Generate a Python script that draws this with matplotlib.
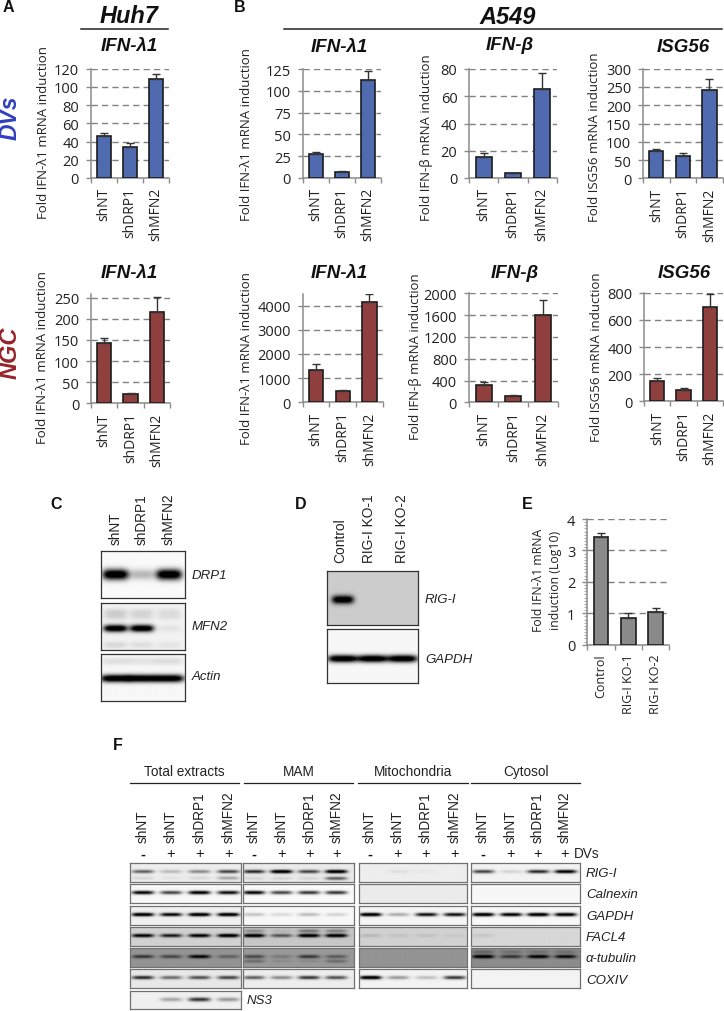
import numpy as np
import matplotlib
matplotlib.use("Agg")
import matplotlib.pyplot as plt
from matplotlib.ticker import MultipleLocator

W, H = 724, 1012
SANS = "Open Sans"
ARIAL = "Liberation Sans"
BLUE, RED, GREY = "#4f6aae", "#8e3f3e", "#8a8a8a"
SPINE = "#8c8c8c"
DARK = "#1d1d1d"

labels_sh = ["shNT", "shDRP1", "shMFN2"]
labels_ko = ["Control", "RIG-I KO-1", "RIG-I KO-2"]

dv_huh_ifnl = [46, 33.5, 108.5];   dv_huh_ifnl_err = [3, 4.5, 5]
dv_a549_ifnl = [27, 6.5, 113];     dv_a549_ifnl_err = [3, 1, 10]
dv_a549_ifnb = [15.5, 3.5, 65];    dv_a549_ifnb_err = [2.5, 0.5, 12]
dv_a549_isg = [74, 62, 243];       dv_a549_isg_err = [7, 7, 28]
ngc_huh_ifnl = [143, 21, 216];     ngc_huh_ifnl_err = [12, 3, 37]
ngc_a549_ifnl = [1330, 470, 4150]; ngc_a549_ifnl_err = [250, 30, 330]
ngc_a549_ifnb = [320, 115, 1610];  ngc_a549_ifnb_err = [60, 15, 260]
ngc_a549_isg = [150, 85, 695];     ngc_a549_isg_err = [25, 10, 95]
ko_vals = [3.42, 0.85, 1.03];      ko_err = [0.15, 0.17, 0.13]

fig = plt.figure(figsize=(W / 100, H / 100), dpi=100)
fig.patch.set_facecolor("white")


def pax(x0, y0, x1, y1, **kw):
    return fig.add_axes([x0 / W, 1 - y1 / H, (x1 - x0) / W, (y1 - y0) / H], **kw)


def txt(x, y, s, **kw):
    kw.setdefault("ha", "center")
    kw.setdefault("va", "center")
    kw.setdefault("family", ARIAL)
    return fig.text(x / W, 1 - y / H, s, **kw)


def hline(x0, x1, y, lw=1.1, color="#222222"):
    fig.add_artist(plt.Line2D([x0 / W, x1 / W], [1 - y / H, 1 - y / H], color=color, lw=lw))


def bars(box, vals, errs, color, ticks, ymax, cats=labels_sh, minor=None, lab_pad=6.5, catsize=10):
    ax = pax(*box)
    ax.set_xlim(0, 3)
    ax.set_ylim(0, ymax)
    x = np.arange(3) + 0.5
    ax.bar(x, vals, width=0.54, color=color, edgecolor=DARK, linewidth=1.2, zorder=3,
           yerr=[np.zeros(3), errs], error_kw=dict(ecolor="#333333", elinewidth=1.0, capsize=2.6,
                                                   capthick=1.0, zorder=4))
    for s in ("top", "right"):
        ax.spines[s].set_visible(False)
    for s in ("left", "bottom"):
        ax.spines[s].set_color(SPINE)
        ax.spines[s].set_linewidth(1.1)
    ax.set_yticks(ticks)
    ax.set_xticks([0, 1, 2, 3])
    ax.set_xticklabels([])
    ax.set_xticks(x, minor=True)
    ax.set_xticklabels(cats, minor=True, rotation=90, family=SANS, fontsize=catsize, color="#222222")
    ax.tick_params(axis="x", which="minor", length=0, pad=lab_pad)
    ax.tick_params(axis="x", which="major", length=3.5, color=SPINE, width=1.0)
    ax.tick_params(axis="y", length=3.5, color=SPINE, width=1.0, pad=5, labelsize=10.5, labelcolor="#222222")
    for t in ax.get_yticklabels():
        t.set_family(SANS)
    ax.yaxis.grid(True, color="#808080", lw=1.0, ls=(0, (4.5, 3)), zorder=0)
    ax.set_axisbelow(True)
    if minor:
        ax.yaxis.set_minor_locator(MultipleLocator(minor))
        ax.tick_params(axis="y", which="minor", length=2.5, color="#aaaaaa", width=0.8)
    return ax


# Row 1, DVs
bars((90.7, 69.5, 169, 179), dv_huh_ifnl, dv_huh_ifnl_err, BLUE, range(0, 121, 20), 120)
bars((302.7, 70.3, 381, 178.7), dv_a549_ifnl, dv_a549_ifnl_err, BLUE, range(0, 126, 25), 125)
bars((469.3, 70, 556.7, 179), dv_a549_ifnb, dv_a549_ifnb_err, BLUE, range(0, 81, 20), 80)
bars((643, 69.7, 722.7, 179.3), dv_a549_isg, dv_a549_isg_err, BLUE, range(0, 301, 50), 300)
# Row 2, NGC
bars((91, 295, 170, 404.3), ngc_huh_ifnl, ngc_huh_ifnl_err, RED, range(0, 251, 50), 259)
bars((302.7, 295, 382.7, 403.3), ngc_a549_ifnl, ngc_a549_ifnl_err, RED, range(0, 4001, 1000), 4480)
bars((468.7, 294.3, 558, 403.3), ngc_a549_ifnb, ngc_a549_ifnb_err, RED, range(0, 2001, 400), 2000)
bars((644.3, 293.7, 722.7, 402.3), ngc_a549_isg, ngc_a549_isg_err, RED, range(0, 801, 200), 800)
# Panel E
bars((587.3, 520, 669.3, 645.7), ko_vals, ko_err, GREY, range(0, 5), 4, cats=labels_ko, minor=0.1, catsize=9)

# Headers
TITLE = dict(family=ARIAL, weight="bold", style="italic", color="#111111")
txt(129.3, 16.5, "Huh7", fontsize=17, **TITLE)
txt(508, 17, "A549", fontsize=17, **TITLE)
hline(81, 168, 29.7)
hline(284, 722, 29.7)
for x, y, s in [(129, 46.7, "IFN-λ1"), (339.5, 47, "IFN-λ1"), (510, 46, "IFN-β"), (683, 47.5, "ISG56"),
                (129, 274, "IFN-λ1"), (339.5, 274, "IFN-λ1"), (515, 273, "IFN-β"), (684, 273, "ISG56")]:
    txt(x, y, s, fontsize=13.5, **TITLE)
txt(10.5, 118, "DVs", fontsize=16.5, rotation=90, family=ARIAL, weight="bold", style="italic", color="#2f3fc0")
txt(10.5, 353, "NGC", fontsize=17, rotation=90, family=ARIAL, weight="bold", style="italic", color="#97232a")

YL = dict(rotation=90, family=SANS, fontsize=9.5, color="#222222")
for x, y, s in [(43.3, 132.5, "Fold IFN-λ1 mRNA induction"), (247, 134.7, "Fold IFN-λ1 mRNA induction"),
                (426.7, 137.5, "Fold IFN-β mRNA induction"), (594, 136.7, "Fold ISG56 mRNA induction"),
                (43, 357.8, "Fold IFN-λ1 mRNA induction"), (246.7, 358.8, "Fold IFN-λ1 mRNA induction"),
                (415, 357, "Fold IFN-β mRNA induction"), (596, 357, "Fold ISG56 mRNA induction")]:
    txt(x, y, s, **YL)
txt(547, 580, "Fold IFN-λ1 mRNA\ninduction (Log10)", rotation=90, family=SANS, fontsize=8.8,
    color="#222222", linespacing=1.45)

for x, y, s in [(8, 7, "A"), (240, 7, "B"), (56, 505, "C"), (300.7, 505, "D"), (527.7, 505, "E"), (117.7, 746, "F")]:
    txt(x, y, s, fontsize=11.5, weight="bold", color="#111111")


# Blots: each band is a lane-wise darkness profile
def blot(box, lanes, bands, bg, half=11, sy=2.0, edge="#707070"):
    x0, y0, x1, y1 = box
    ax = pax(x0, y0, x1, y1)
    nx, ny = int(x1 - x0) * 2, int(y1 - y0) * 2
    xs = np.linspace(x0, x1, nx)
    ys = np.linspace(0, 1, ny)
    dark = np.zeros((ny, nx))
    for yf, vals in bands:
        prof_y = np.exp(-0.5 * ((ys - yf) * (y1 - y0) / sy) ** 2)
        for lx, v in zip(lanes, vals):
            prof_x = np.exp(-np.abs((xs - lx) / half) ** 4)
            dark += v * 1.25 * np.outer(prof_y, prof_x)
    img = bg * (1 - np.clip(dark, 0, 1))
    ax.imshow(img, cmap="gray", vmin=0, vmax=1, aspect="auto", interpolation="bilinear",
              extent=(x0, x1, y1, y0))
    ax.set_xticks([])
    ax.set_yticks([])
    for s in ax.spines.values():
        s.set_color(edge)
        s.set_linewidth(0.9)
    return ax


# Panel C
c_lanes = [115.3, 141.7, 169]
c_drp1 = [1.0, 0.22, 1.0]
c_mfn2 = [1.0, 1.0, 0.05]
c_mfn2_upper = [0.1, 0.08, 0.06]
c_mfn2_lower = [0.09, 0.07, 0.05]
c_actin = [1.0, 1.0, 1.0]
c_actin_upper = [0.08, 0.07, 0.09]
blot((101, 552.3, 184.7, 599.3), c_lanes, [(0.5, c_drp1)], 0.98, half=13, sy=3.8, edge="#333333")
blot((101, 604, 184.7, 651.3), c_lanes, [(0.55, c_mfn2), (0.2, c_mfn2_upper), (0.3, c_mfn2_upper),
                                          (0.9, c_mfn2_lower)], 0.95, half=12, sy=2.5, edge="#333333")
blot((101, 655, 184.7, 702), c_lanes, [(0.52, c_actin), (0.15, c_actin_upper)], 0.97, half=15, sy=2.7, edge="#333333")
for x, s in zip(c_lanes, labels_sh):
    txt(x, 545, s, rotation=90, va="bottom", fontsize=9.8, color="#222222")
for y, s in [(576, "DRP1"), (627.3, "MFN2"), (676.7, "Actin")]:
    txt(191.7, y, s, ha="left", style="italic", fontsize=9.5, color="#222222")

# Panel D
d_lanes = [343, 373, 403]
d_rig = [1.0, 0.0, 0.0]
d_gapdh = [1.0, 1.0, 1.0]
blot((327.3, 572.3, 418.3, 626.3), d_lanes, [(0.53, d_rig)], 0.8, half=11, sy=3.0, edge="#333333")
blot((327.3, 630, 418.3, 684), d_lanes, [(0.55, d_gapdh)], 0.97, half=15, sy=2.6, edge="#333333")
for x, s in zip([340, 369, 401.7], labels_ko):
    txt(x, 563.3, s, rotation=90, va="bottom", fontsize=9.9, color="#222222")
txt(425, 600, "RIG-I", ha="left", style="italic", fontsize=9.5, color="#222222")
txt(425, 660, "GAPDH", ha="left", style="italic", fontsize=9.5, color="#222222")

# Panel F
f_names = ["RIG-I", "Calnexin", "GAPDH", "FACL4", "α-tubulin", "COXIV"]
f_rows = [(864, 883), (885.3, 903.7), (906.7, 925.7), (927.7, 946.7), (948.7, 967.7), (970.3, 989)]
f_sections = ["Total extracts", "MAM", "Mitochondria", "Cytosol"]
f_signs = ["-", "+", "+", "+"]
f_labels = ["shNT", "shNT", "shDRP1", "shMFN2"]

total_bg = [0.93, 0.97, 0.94, 0.82, 0.58, 0.91]
total_main = [[0.5, 0.18, 0.35, 0.6], [0.85, 0.6, 0.9, 0.8], [1, 0.85, 1, 1],
              [0.9, 0.75, 0.9, 1], [0.55, 0.45, 0.85, 0.3], [0.7, 0.45, 0.55, 0.6]]
mam_bg = [0.92, 0.98, 0.97, 0.78, 0.60, 0.93]
mam_main = [[0.7, 1, 0.6, 1], [0.85, 0.6, 0.65, 0.65], [0.18, 0.1, 0.2, 0.12],
            [1, 0.5, 1, 1], [0.45, 0.18, 0.55, 0.35], [0.5, 0.35, 0.65, 0.55]]
mito_bg = [0.93, 0.92, 0.96, 0.82, 0.58, 0.95]
mito_main = [[0, 0.05, 0.02, 0], [0, 0, 0, 0], [1, 0.25, 0.8, 0.8],
             [0.1, 0.06, 0.06, 0.04], [0, 0, 0, 0], [1, 0.3, 0.18, 0.65]]
cyto_bg = [0.95, 0.97, 0.97, 0.84, 0.55, 0.95]
cyto_main = [[0.6, 0.1, 0.7, 0.9], [0, 0, 0, 0], [1, 0.9, 1, 0.95],
             [0.06, 0, 0, 0], [1, 0.55, 0.9, 0.8], [0, 0, 0, 0]]
ns3_vals = [0, 0.25, 0.65, 0.3]

total_extra = {0: (0.8, [0.08, 0.04, 0.08, 0.25])}
mam_extra = {0: (0.82, [0.08, 0.08, 0.08, 0.5]), 3: (0.2, [0.25, 0.08, 0.35, 0.3]), 4: (0.7, [0.25, 0.08, 0.08, 0.25])}
mito_extra = {}
cyto_extra = {4: (0.2, [0.25, 0.18, 0.18, 0.18])}

f_boxes = [(130, 240.7), (243.3, 354.3), (358.7, 467.3), (470.7, 580.3)]
f_lanes = [[142.7, 171, 199.3, 228.3], [254, 281.7, 309.3, 336.7], [370, 397.7, 426, 454.3], [482.7, 510.7, 537.7, 565]]
f_lines = [(130, 239), (244, 353), (358, 468), (471, 580)]
f_main = [total_main, mam_main, mito_main, cyto_main]
f_bg = [total_bg, mam_bg, mito_bg, cyto_bg]
f_extra = [total_extra, mam_extra, mito_extra, cyto_extra]

for i in range(4):
    x0, x1 = f_boxes[i]
    for r, (y0, y1) in enumerate(f_rows):
        bands = [(0.45, f_main[i][r])]
        if r in f_extra[i]:
            bands.append(f_extra[i][r])
        blot((x0, y0, x1, y1), f_lanes[i], bands, f_bg[i][r], half=11, sy=1.25)
    for x, lab, sg in zip(f_lanes[i], f_labels, f_signs):
        txt(x, 843.3, lab, rotation=90, va="bottom", fontsize=9.8, color="#222222")
        txt(x, 854.5, sg, fontsize=10.5, weight="bold" if sg == "-" else "normal", color="#111111")
    hline(*f_lines[i], 784.3, lw=0.9)
    txt(sum(f_lines[i]) / 2, 772, f_sections[i], fontsize=9.8, color="#222222")
blot((130, 991.7, 240.7, 1010), f_lanes[0], [(0.5, ns3_vals)], 0.94, half=11, sy=1.4)
txt(247, 1001, "NS3", ha="left", style="italic", fontsize=9.5, color="#222222")
txt(574.3, 854, "DVs", ha="left", fontsize=9.8, color="#222222")
for (y0, y1), n in zip(f_rows, f_names):
    txt(586, (y0 + y1) / 2 + 1, n, ha="left", style="italic", fontsize=9.5, color="#222222")

fig.savefig("out.png", dpi=100)
